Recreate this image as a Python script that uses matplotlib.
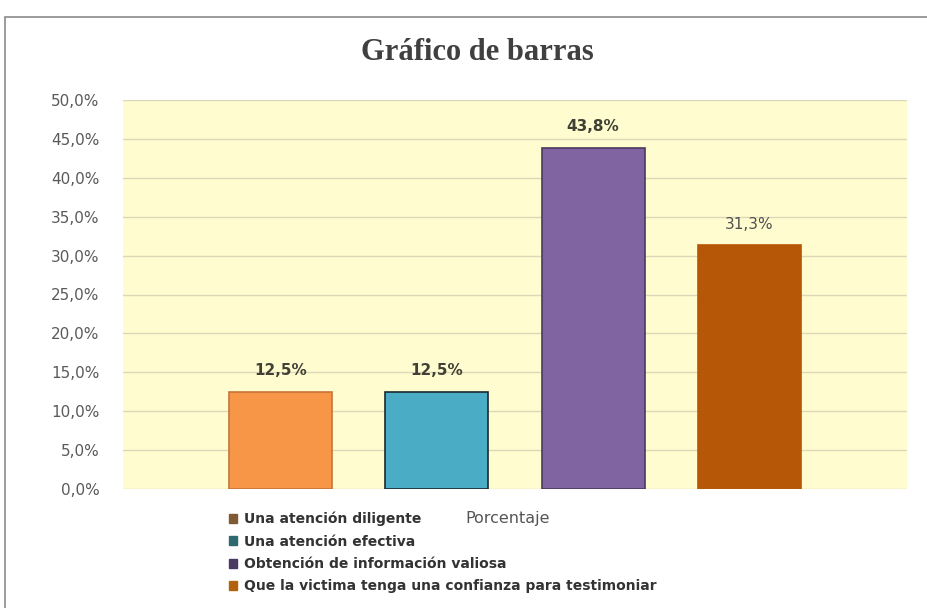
import matplotlib
matplotlib.use("Agg")
import matplotlib.pyplot as plt
from matplotlib.patches import Rectangle, Patch
from matplotlib.ticker import FuncFormatter, MultipleLocator

categories = ["Una atención diligente", "Una atención efectiva",
              "Obtención de información valiosa",
              "Que la victima tenga una confianza para testimoniar"]
values = [12.5, 12.5, 43.8, 31.3]
value_labels = ["12,5%", "12,5%", "43,8%", "31,3%"]
label_bold = [True, True, True, False]
bar_colors = ["#F79646", "#4BACC6", "#8064A2", "#B65708"]
edge_colors = ["#C8733A", "#1a2a30", "#4a3a60", "#B65708"]
legend_colors = ["#7F5A35", "#2E6A70", "#4B3B63", "#B0620F"]
axis_label = "Porcentaje"
title = "Gráfico de barras"

fig = plt.figure(figsize=(9.27, 6.08), dpi=100)
fig.patch.set_facecolor("white")

# outer chart border
fig.add_artist(Rectangle((5/927, -0.02), 1.1, 1 - 17/608 + 0.02,
                         transform=fig.transFigure, fill=False,
                         edgecolor="#8a8a8a", linewidth=1.2))

ax = fig.add_axes([123/927, 1 - 489/608, (907-123)/927, (489-100)/608])
ax.set_facecolor("#FFFDD0")
x = list(range(len(values)))
bars = ax.bar(x, values, width=0.66, color=bar_colors, edgecolor=edge_colors,
              linewidth=1.2, zorder=3)
ax.set_xlim(1.5 - 2.51, 1.5 + 2.51)
ax.set_ylim(0, 50)
ax.yaxis.set_major_locator(MultipleLocator(5))
ax.yaxis.set_major_formatter(FuncFormatter(lambda v, p: f"{v:.1f}%".replace(".", ",")))
ax.grid(axis="y", color="#DDD6B8", linewidth=1.0, zorder=0)
ax.set_xticks([])
for s in ax.spines.values():
    s.set_visible(False)
ax.tick_params(axis="y", length=0, pad=17, labelsize=11, labelcolor="#5a5a5a")
for lab in ax.get_yticklabels():
    lab.set_fontfamily("DejaVu Sans")

for xi, v, t, b in zip(x, values, value_labels, label_bold):
    ax.annotate(t, (xi, v), xytext=(0, 10), textcoords="offset points",
                ha="center", va="bottom", fontsize=11,
                fontweight="bold" if b else "normal",
                color="#404035" if b else "#505050")

fig.text(477/927, 1 - 53/608, title, ha="center", va="center",
         fontsize=22, fontweight="bold", family="Liberation Serif", color="#404040")

handles = [Patch(facecolor=c, edgecolor=c) for c in legend_colors]
leg = fig.legend(handles, categories, loc="upper left",
                 bbox_to_anchor=(222/927, 1 - 505/608), frameon=False,
                 handlelength=0.6, handleheight=0.6, handletextpad=0.5,
                 labelspacing=0.6, borderpad=0,
                 prop={"weight": "bold", "size": 10, "family": "DejaVu Sans"})
for t in leg.get_texts():
    t.set_color("#333333")

fig.text(465/927, 1 - 518/608, axis_label, ha="left", va="center",
         fontsize=11.5, color="#555555")

fig.savefig("out.png", dpi=100)
